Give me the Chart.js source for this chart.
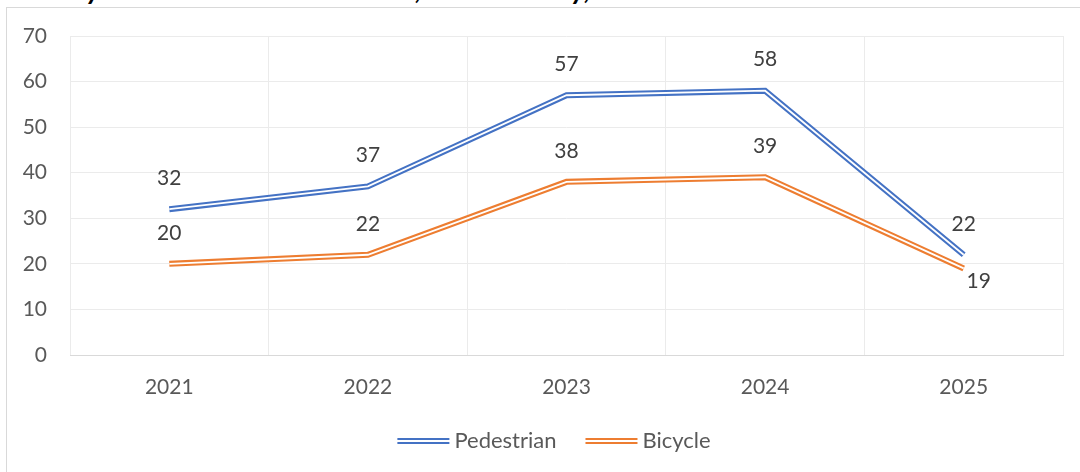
<!DOCTYPE html>
<html>
<head>
<meta charset="utf-8">
<script src="https://cdn.jsdelivr.net/npm/chart.js@4/dist/chart.umd.min.js"></script>
<style>
    html, body { margin: 0; padding: 0; background: #fff; }
    body { width: 1080px; height: 472px; position: relative; overflow: hidden; }
    #title {
        position: absolute; left: -14px; top: -29px; white-space: nowrap;
        font: italic bold 28px 'Lato', sans-serif; color: #000; line-height: 34px;
    }
    #frame {
        position: absolute; left: 6px; top: 7px; width: 1100px; height: 500px;
        border: 1px solid #d9d9d9; box-sizing: border-box; background: #fff;
    }
    #wrap { position: absolute; left: 0; top: 0; width: 1080px; height: 472px; }
</style>
</head>
<body>
<div id="title">Total Bicycle and Pedestrian Crashes, Sister County, 2021-2025</div>
<div id="frame"></div>
<div id="wrap"><canvas id="crashChart"></canvas></div>
<script>
const years = ['2021', '2022', '2023', '2024', '2025'];
const pedestrian = [32, 37, 57, 58, 22];
const bicycle = [20, 22, 38, 39, 19];
const seriesNames = ['Pedestrian', 'Bicycle'];
const seriesColors = ['#4472C4', '#ED7D31'];

const FONT = 'Lato';

// white inner stroke gives the Excel "double" line look
const doubleLine = {
    id: 'doubleLine',
    afterDatasetsDraw(chart) {
        const ctx = chart.ctx;
        chart.data.datasets.forEach((ds, i) => {
            const pts = chart.getDatasetMeta(i).data;
            ctx.save();
            ctx.beginPath();
            pts.forEach((p, j) => j ? ctx.lineTo(p.x, p.y) : ctx.moveTo(p.x, p.y));
            ctx.strokeStyle = '#fff';
            ctx.lineWidth = 1.8;
            ctx.lineJoin = 'miter';
            ctx.stroke();
            ctx.restore();
        });
    }
};

const valueLabels = {
    id: 'valueLabels',
    afterDatasetsDraw(chart) {
        const ctx = chart.ctx;
        ctx.save();
        ctx.font = '21px ' + FONT;
        ctx.fillStyle = '#404040';
        ctx.textAlign = 'center';
        ctx.textBaseline = 'middle';
        chart.data.datasets.forEach((ds, i) => {
            chart.getDatasetMeta(i).data.forEach((p, j) => {
                let x = p.x, y = p.y - 31;
                // last bicycle label sits below-right of its point
                if (i === 1 && j === ds.data.length - 1) { x = p.x + 15; y = p.y + 13; }
                ctx.fillText(String(ds.data[j]), x, y);
            });
        });
        ctx.restore();
    }
};

const bottomLegend = {
    id: 'bottomLegend',
    afterDraw(chart) {
        const ctx = chart.ctx;
        ctx.save();
        ctx.font = '22px ' + FONT;
        ctx.textBaseline = 'middle';
        const lineW = 52, gap = 5, itemGap = 29, cy = 441, cx = 554;
        const widths = seriesNames.map(n => lineW + gap + ctx.measureText(n).width);
        const total = widths.reduce((a, b) => a + b, 0) + itemGap * (widths.length - 1);
        let x = cx - total / 2;
        seriesNames.forEach((name, i) => {
            ctx.strokeStyle = seriesColors[i];
            ctx.lineWidth = 2;
            ctx.beginPath();
            ctx.moveTo(x, cy - 2); ctx.lineTo(x + lineW, cy - 2);
            ctx.moveTo(x, cy + 2); ctx.lineTo(x + lineW, cy + 2);
            ctx.stroke();
            ctx.fillStyle = '#595959';
            ctx.fillText(name, x + lineW + gap, cy);
            x += widths[i] + itemGap;
        });
        ctx.restore();
    }
};

const ctx = document.getElementById('crashChart').getContext('2d');
new Chart(ctx, {
    type: 'line',
    data: {
        labels: years,
        datasets: [
            { label: seriesNames[0], data: pedestrian, borderColor: seriesColors[0], borderWidth: 6, pointRadius: 0, tension: 0, borderJoinStyle: 'miter' },
            { label: seriesNames[1], data: bicycle, borderColor: seriesColors[1], borderWidth: 6, pointRadius: 0, tension: 0, borderJoinStyle: 'miter' }
        ]
    },
    options: {
        responsive: true,
        maintainAspectRatio: false,
        animation: false,
        layout: { padding: { top: 36, right: 17, bottom: 50, left: 0 } },
        plugins: {
            legend: { display: false },
            tooltip: { enabled: false }
        },
        scales: {
            x: {
                offset: true,
                grid: { offset: true, color: '#ebebeb', drawTicks: false },
                border: { color: '#d9d9d9' },
                ticks: { color: '#595959', font: { family: FONT, size: 21 }, padding: 20 },
                afterFit(axis) { axis.height = 67; }
            },
            y: {
                min: 0, max: 70,
                ticks: { stepSize: 10, color: '#595959', font: { family: FONT, size: 21 }, padding: 23 },
                grid: { color: '#ebebeb', drawTicks: false },
                border: { display: false },
                afterFit(axis) { axis.width = 70; }
            }
        }
    },
    plugins: [doubleLine, valueLabels, bottomLegend]
});
</script>
</body>
</html>
